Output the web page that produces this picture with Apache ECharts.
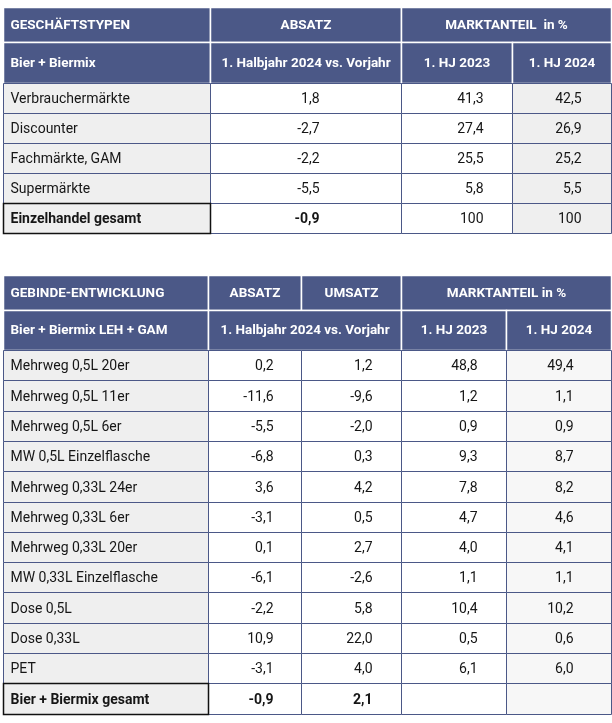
<!DOCTYPE html>
<html>
<head>
<meta charset="utf-8">
<script src="https://cdn.jsdelivr.net/npm/echarts@6/dist/echarts.min.js"></script>
<style>
  html, body { margin: 0; padding: 0; background: #fff; }
  #main { width: 612px; height: 723px; }
</style>
</head>
<body>
<div id="main"></div>
<script>
// ---- Tabelle 1: Geschaeftstypen ----
var typen = ['Verbrauchermärkte', 'Discounter', 'Fachmärkte, GAM', 'Supermärkte', 'Einzelhandel gesamt'];
var typenAbsatz = [1.8, -2.7, -2.2, -5.5, -0.9];
var typenAnteil2023 = [41.3, 27.4, 25.5, 5.8, 100];
var typenAnteil2024 = [42.5, 26.9, 25.2, 5.5, 100];

// ---- Tabelle 2: Gebinde ----
var gebinde = ['Mehrweg 0,5L 20er', 'Mehrweg 0,5L 11er', 'Mehrweg 0,5L 6er', 'MW 0,5L Einzelflasche',
    'Mehrweg 0,33L 24er', 'Mehrweg 0,33L 6er', 'Mehrweg 0,33L 20er', 'MW 0,33L Einzelflasche',
    'Dose 0,5L', 'Dose 0,33L', 'PET', 'Bier + Biermix gesamt'];
var gebindeAbsatz = [0.2, -11.6, -5.5, -6.8, 3.6, -3.1, 0.1, -6.1, -2.2, 10.9, -3.1, -0.9];
var gebindeUmsatz = [1.2, -9.6, -2.0, 0.3, 4.2, 0.5, 2.7, -2.6, 5.8, 22.0, 4.0, 2.1];
var gebindeAnteil2023 = [48.8, 1.2, 0.9, 9.3, 7.8, 4.7, 4.0, 1.1, 10.4, 0.5, 6.1, null];
var gebindeAnteil2024 = [49.4, 1.1, 0.9, 8.7, 8.2, 4.6, 4.1, 1.1, 10.2, 0.6, 6.0, null];

// header texts
var head1Top = ['GESCHÄFTSTYPEN', 'ABSATZ', 'MARKTANTEIL  in %'];
var head1Sub = ['Bier + Biermix', '1. Halbjahr 2024 vs. Vorjahr', '1. HJ 2023', '1. HJ 2024'];
var head2Top = ['GEBINDE-ENTWICKLUNG', 'ABSATZ', 'UMSATZ', 'MARKTANTEIL in %'];
var head2Sub = ['Bier + Biermix LEH + GAM', '1. Halbjahr 2024 vs. Vorjahr', '1. HJ 2023', '1. HJ 2024'];

// layout (pixels)
var HEAD = '#4b5887';
var LINE = '#4b5887';
var GREY = '#efefef';
var GREY_LIGHT = '#f7f7f7';
var FONT = 'Roboto, "Noto Sans", sans-serif';
var BODY_SIZE = 14;
var HEAD_SIZE = 13.5;

var t1Cols = [3, 210, 401, 512, 611];
var t1Rows = [7, 42, 83];
var t1RowH = 30;
var t1Right = [0, 82, 29, 30];   // right padding of numbers per column

var t2Cols = [3, 208, 301, 401, 506, 611];
var t2Rows = [275, 310, 350];
var t2RowH = 30.3;
var t2Right = [0, 28, 29, 29, 38];

function fmt(v) {
    if (v === null || v === undefined) return '';
    if (v === 100) return '100';
    return v.toFixed(1).replace('.', ',');
}

var cells = [];
function cell(x0, x1, y0, y1, text, opt) {
    opt = opt || {};
    cells.push({
        value: [x0, y0, x1, y1],
        text: text,
        align: opt.align || 'center',
        pad: opt.pad || 7,
        bold: !!opt.bold,
        size: opt.size || BODY_SIZE,
        dy: opt.dy === undefined ? 1 : opt.dy,
        color: opt.color || '#161616',
        fill: opt.fill || '#fff',
        stroke: opt.stroke || LINE,
        lw: opt.lw || 1
    });
}
function headCell(x0, x1, y0, y1, text, align) {
    cell(x0, x1, y0, y1, text, { align: align, bold: true, size: HEAD_SIZE, color: '#fff',
        fill: HEAD, stroke: '#fff', lw: 1.5, dy: 0.5 });
}

// Tabelle 1 header
headCell(t1Cols[0], t1Cols[1], t1Rows[0], t1Rows[1], head1Top[0], 'left');
headCell(t1Cols[1], t1Cols[2], t1Rows[0], t1Rows[1], head1Top[1]);
headCell(t1Cols[2], t1Cols[4], t1Rows[0], t1Rows[1], head1Top[2]);
headCell(t1Cols[0], t1Cols[1], t1Rows[1], t1Rows[2], head1Sub[0], 'left');
for (var i = 1; i < 4; i++) headCell(t1Cols[i], t1Cols[i + 1], t1Rows[1], t1Rows[2], head1Sub[i]);

// Tabelle 1 body
typen.forEach(function (name, r) {
    var y0 = t1Rows[2] + r * t1RowH, y1 = y0 + t1RowH;
    var total = r === typen.length - 1;
    var vals = [typenAbsatz[r], typenAnteil2023[r], typenAnteil2024[r]];
    cell(t1Cols[0], t1Cols[1], y0, y1, name, { align: 'left', bold: total, fill: GREY,
        stroke: total ? '#111' : LINE, lw: total ? 1.5 : 1 });
    vals.forEach(function (v, c) {
        cell(t1Cols[c + 1], t1Cols[c + 2], y0, y1, fmt(v), { align: 'right', pad: t1Right[c + 1],
            bold: total && c === 0, fill: c === 2 ? GREY : '#fff' });
    });
});

// Tabelle 2 header
headCell(t2Cols[0], t2Cols[1], t2Rows[0], t2Rows[1], head2Top[0], 'left');
headCell(t2Cols[1], t2Cols[2], t2Rows[0], t2Rows[1], head2Top[1]);
headCell(t2Cols[2], t2Cols[3], t2Rows[0], t2Rows[1], head2Top[2]);
headCell(t2Cols[3], t2Cols[5], t2Rows[0], t2Rows[1], head2Top[3]);
headCell(t2Cols[0], t2Cols[1], t2Rows[1], t2Rows[2], head2Sub[0], 'left');
headCell(t2Cols[1], t2Cols[3], t2Rows[1], t2Rows[2], head2Sub[1]);
headCell(t2Cols[3], t2Cols[4], t2Rows[1], t2Rows[2], head2Sub[2]);
headCell(t2Cols[4], t2Cols[5], t2Rows[1], t2Rows[2], head2Sub[3]);

// Tabelle 2 body
gebinde.forEach(function (name, r) {
    var y0 = Math.round(t2Rows[2] + r * t2RowH), y1 = Math.round(t2Rows[2] + (r + 1) * t2RowH);
    var total = r === gebinde.length - 1;
    var vals = [gebindeAbsatz[r], gebindeUmsatz[r], gebindeAnteil2023[r], gebindeAnteil2024[r]];
    cell(t2Cols[0], t2Cols[1], y0, y1, name, { align: 'left', bold: total, fill: GREY,
        stroke: total ? '#111' : LINE, lw: total ? 1.5 : 1 });
    vals.forEach(function (v, c) {
        cell(t2Cols[c + 1], t2Cols[c + 2], y0, y1, fmt(v), { align: 'right', pad: t2Right[c + 1],
            bold: total && c < 2, fill: c === 3 ? GREY_LIGHT : '#fff' });
    });
});

// black total borders drawn last so they sit on top
var bodyCells = cells.filter(function (c) { return c.stroke !== '#111'; });
var totalCells = cells.filter(function (c) { return c.stroke === '#111'; });
cells = bodyCells.concat(totalCells);

function renderCell(params, api) {
    var c = cells[params.dataIndex];
    var p0 = api.coord([api.value(0), api.value(1)]);
    var p1 = api.coord([api.value(2), api.value(3)]);
    var x0 = Math.round(p0[0]) + 0.5, y0 = Math.round(p0[1]) + 0.5;
    var x1 = Math.round(p1[0]) + 0.5, y1 = Math.round(p1[1]) + 0.5;
    var tx = c.align === 'left' ? x0 + c.pad : c.align === 'right' ? x1 - c.pad : (x0 + x1) / 2;
    return {
        type: 'group',
        children: [{
            type: 'rect',
            shape: { x: x0, y: y0, width: x1 - x0, height: y1 - y0 },
            style: { fill: c.fill, stroke: c.stroke, lineWidth: c.lw }
        }, {
            type: 'text',
            style: {
                text: c.text, x: tx, y: (y0 + y1) / 2 + c.dy,
                align: c.align, verticalAlign: 'middle',
                textAlign: c.align, textVerticalAlign: 'middle',
                fill: c.color,
                font: (c.bold ? 'bold ' : '') + c.size + 'px ' + FONT
            }
        }]
    };
}

var option = {
    animation: false,
    grid: { left: 0, right: 0, top: 0, bottom: 0 },
    xAxis: { type: 'value', min: 0, max: 612, show: false },
    yAxis: { type: 'value', min: 0, max: 723, inverse: true, show: false },
    series: [{
        type: 'custom',
        renderItem: renderCell,
        data: cells.map(function (c) { return c.value; }),
        silent: true
    }]
};

var myChart = echarts.init(document.getElementById('main'));
myChart.setOption(option);
</script>
</body>
</html>
